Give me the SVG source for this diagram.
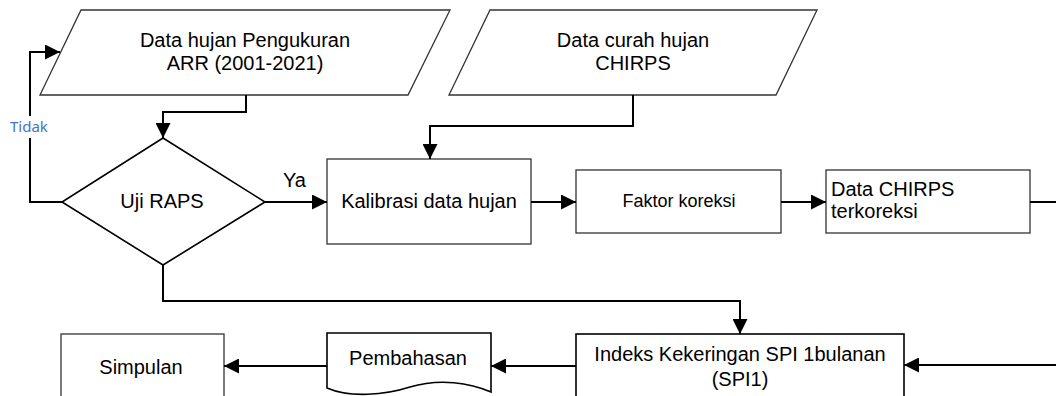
<svg xmlns="http://www.w3.org/2000/svg" width="1056" height="396" viewBox="0 0 1056 396">
<style>
text{font-family:"Liberation Sans",Arial,sans-serif;font-size:20px;fill:#000}
.c{text-anchor:middle}
.box{fill:#fff;stroke:#333;stroke-width:1.3}
.bold{fill:#fff;stroke:#000;stroke-width:1.6}
.conn{fill:none;stroke:#000;stroke-width:2}
.arr{marker-end:url(#ah)}
.lbl{font-family:"Noto Sans","DejaVu Sans",sans-serif;font-size:15px;fill:#4472C4}
</style>
<defs>
<marker id="ah" viewBox="0 0 15 15" refX="15" refY="7.5" markerWidth="15" markerHeight="15" markerUnits="userSpaceOnUse" orient="auto">
<path d="M0,0 L15,7.5 L0,15 z" fill="#000"/>
</marker>
</defs>
<rect width="1056" height="396" fill="#fff"/>

<g id="n-arr">
<polygon class="box" points="81,10 450,10 408,95 40,95"/>
<text class="c" x="245" y="47">Data hujan Pengukuran</text>
<text class="c" x="245" y="70">ARR (2001-2021)</text>
</g>
<g id="n-chirps">
<polygon class="box" points="490,10 817,10 776,95 449,95"/>
<text class="c" x="633" y="47">Data curah hujan</text>
<text class="c" x="633" y="70">CHIRPS</text>
</g>
<g id="n-raps">
<polygon class="bold" points="163,138 265,202 163,265 62,202"/>
<text class="c" x="162" y="208">Uji RAPS</text>
</g>
<g id="n-kalibrasi">
<rect class="box" x="327" y="159" width="204" height="85"/>
<text class="c" x="429" y="208">Kalibrasi data hujan</text>
</g>
<g id="n-faktor">
<rect class="box" x="576" y="170" width="205" height="63"/>
<text class="c" x="679" y="207" style="font-size:18px">Faktor koreksi</text>
</g>
<g id="n-terkoreksi">
<rect class="box" x="826" y="170" width="204" height="63"/>
<text x="831" y="196">Data CHIRPS</text>
<text x="831" y="218">terkoreksi</text>
</g>
<g id="n-spi">
<rect class="bold" x="576" y="334" width="328" height="70"/>
<text class="c" x="740" y="361">Indeks Kekeringan SPI 1bulanan</text>
<text class="c" x="740" y="386">(SPI1)</text>
</g>
<g id="n-pembahasan">
<path class="bold" d="M327,333 H491 V392 C470,383 440,378 410,387 C385,395 350,398 327,388 Z"/>
<text class="c" x="408" y="365">Pembahasan</text>
</g>
<g id="n-simpulan">
<rect class="box" x="61" y="334" width="163" height="70"/>
<text class="c" x="141" y="374">Simpulan</text>
</g>

<g id="connectors">
<path class="conn arr" d="M246,95 V112 H163 V138"/>
<path class="conn arr" d="M633,95 V126 H430 V159"/>
<path class="conn arr" d="M62,202 H30 V52 H60"/>
<path class="conn arr" d="M265,202 H327"/>
<path class="conn arr" d="M531,202 H576"/>
<path class="conn arr" d="M781,202 H826"/>
<path class="conn" d="M1030,202 H1056"/>
<path class="conn arr" d="M163,265 V301 H740 V334"/>
<path class="conn arr" d="M1056,365 H904"/>
<path class="conn arr" d="M576,366 H491"/>
<path class="conn arr" d="M327,366 H224"/>
<rect x="8" y="116" width="44" height="22" fill="#fff"/>
<text class="lbl" x="10" y="132">Tidak</text>
<text x="283" y="187">Ya</text>
</g>
</svg>
